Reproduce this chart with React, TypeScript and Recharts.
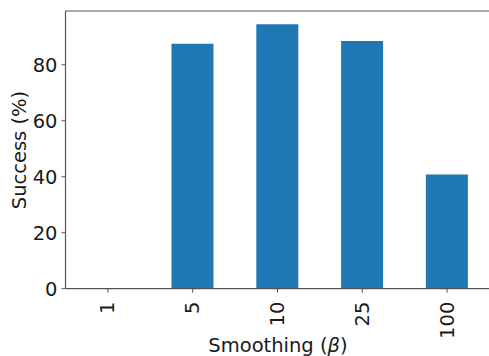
import React from "react";
import { BarChart, Bar, XAxis, YAxis, ReferenceLine, Label } from "recharts";

const categories = ["1", "5", "10", "25", "100"];
const successValues = [0, 87.5, 94.5, 88.5, 40.8];
const yTicks = [0, 20, 40, 60, 80];
const Y_MAX = 99.2;

const data = categories.map((c, i) => ({ beta: c, success: successValues[i] }));

const FONT = "'DejaVu Sans', sans-serif";
const TEXT = "#1a1a1a";
const SPINE = "#555555";
const FS = 19.5;

const XTick = (props: any) => {
  const { x, y, payload } = props;
  return (
    <text
      x={0}
      y={0}
      transform={`translate(${x},${y + 7}) rotate(-90)`}
      textAnchor="end"
      dominantBaseline="central"
      fontFamily={FONT}
      fontSize={FS}
      fill={TEXT}
    >
      {payload.value}
    </text>
  );
};

export default function App() {
  return (
    <div style={{ position: "absolute", left: 0, top: 0, width: 489, height: 356, background: "#fff" }}>
      <BarChart
        width={489}
        height={356}
        data={data}
        margin={{ top: 11, right: -0.5, bottom: 0, left: 0 }}
        barCategoryGap="25%"
      >
        <XAxis
          dataKey="beta"
          tick={<XTick />}
          tickSize={4}
          tickLine={{ stroke: SPINE }}
          axisLine={{ stroke: SPINE, strokeWidth: 1.2 }}
          interval={0}
          height={67.3}
        >
          <Label
            content={() => (
              <text x={278} y={351.5} textAnchor="middle" fontFamily={FONT} fontSize={FS} fill={TEXT}>
                Smoothing (<tspan fontStyle="italic">β</tspan>)
              </text>
            )}
          />
        </XAxis>
        <YAxis
          domain={[0, Y_MAX]}
          ticks={yTicks}
          tickSize={4}
          tickMargin={4}
          tickLine={{ stroke: SPINE }}
          axisLine={{ stroke: SPINE, strokeWidth: 1.2 }}
          width={65.5}
          tick={{ fontFamily: FONT, fontSize: FS, fill: TEXT }}
          allowDataOverflow
        >
          <Label
            content={() => (
              <text
                x={0}
                y={0}
                transform="translate(26,150) rotate(-90)"
                textAnchor="middle"
                fontFamily={FONT}
                fontSize={FS}
                fill={TEXT}
              >
                Success (%)
              </text>
            )}
          />
        </YAxis>
        <ReferenceLine y={Y_MAX} stroke={SPINE} strokeWidth={1.2} />
        <Bar dataKey="success" fill="#1f77b4" isAnimationActive={false} />
      </BarChart>
    </div>
  );
}
